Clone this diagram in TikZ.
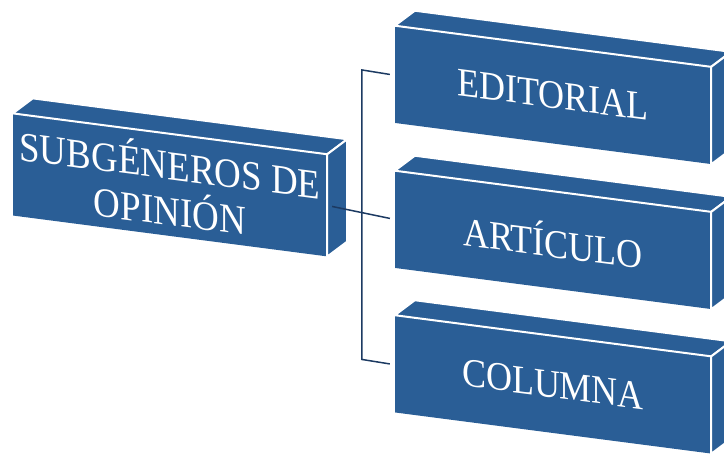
\documentclass[tikz,border=0pt]{standalone}
\usepackage{fontspec}
\setmainfont{Liberation Serif}
\usetikzlibrary{calc}

\definecolor{boxblue}{RGB}{42,94,150}
\definecolor{linkblue}{RGB}{28,58,98}

\begin{document}
\begin{tikzpicture}[
            x=1pt, y=1pt,
            genre/.style={fill=boxblue, text=white, yslant=-0.13, yscale=1.12, minimum width=316pt, minimum height=86.6pt, inner sep=0pt, align=center, font=\fontsize{36}{41}\selectfont},
            side/.style={fill=boxblue, draw=white, line width=2pt, line join=round},
            link/.style={draw=linkblue, line width=1.5pt}
        ]
    \useasboundingbox (0,0) rectangle (724,459);
    \clip (0,0) rectangle (724,459);

    % Main box
    \node[genre, minimum width=314pt, minimum height=91pt, font=\fontsize{37}{41}\selectfont] (subg) at (170,274) {SUBGÉNEROS DE\\OPINIÓN};

    % Subgenres
    \node[genre] (edit) at (553,364) {EDITORIAL};
    \node[genre] (art) at (553,219) {ARTÍCULO};
    \node[genre] (col) at (553,74.5) {COLUMNA};

    % Top and right faces
    \foreach \b in {subg,edit,art,col} {
        \draw[side] (\b.north west) -- ++(20,15) -- ($(\b.north east)+(20,15)$) -- (\b.north east) -- cycle;
        \draw[side] (\b.north east) -- ++(20,15) -- ($(\b.south east)+(20,15)$) -- (\b.south east) -- cycle;
    }

    % Bracket
    \draw[link] ([xshift=-5pt]edit.west) -- ([xshift=-33pt,yshift=4.5pt]edit.west)
        -- ([xshift=-33pt,yshift=4.5pt]col.west) -- ([xshift=-5pt]col.west);
    \draw[link, shorten <=5pt, shorten >=5pt] (subg.east) -- (art.west);

\end{tikzpicture}
\end{document}
